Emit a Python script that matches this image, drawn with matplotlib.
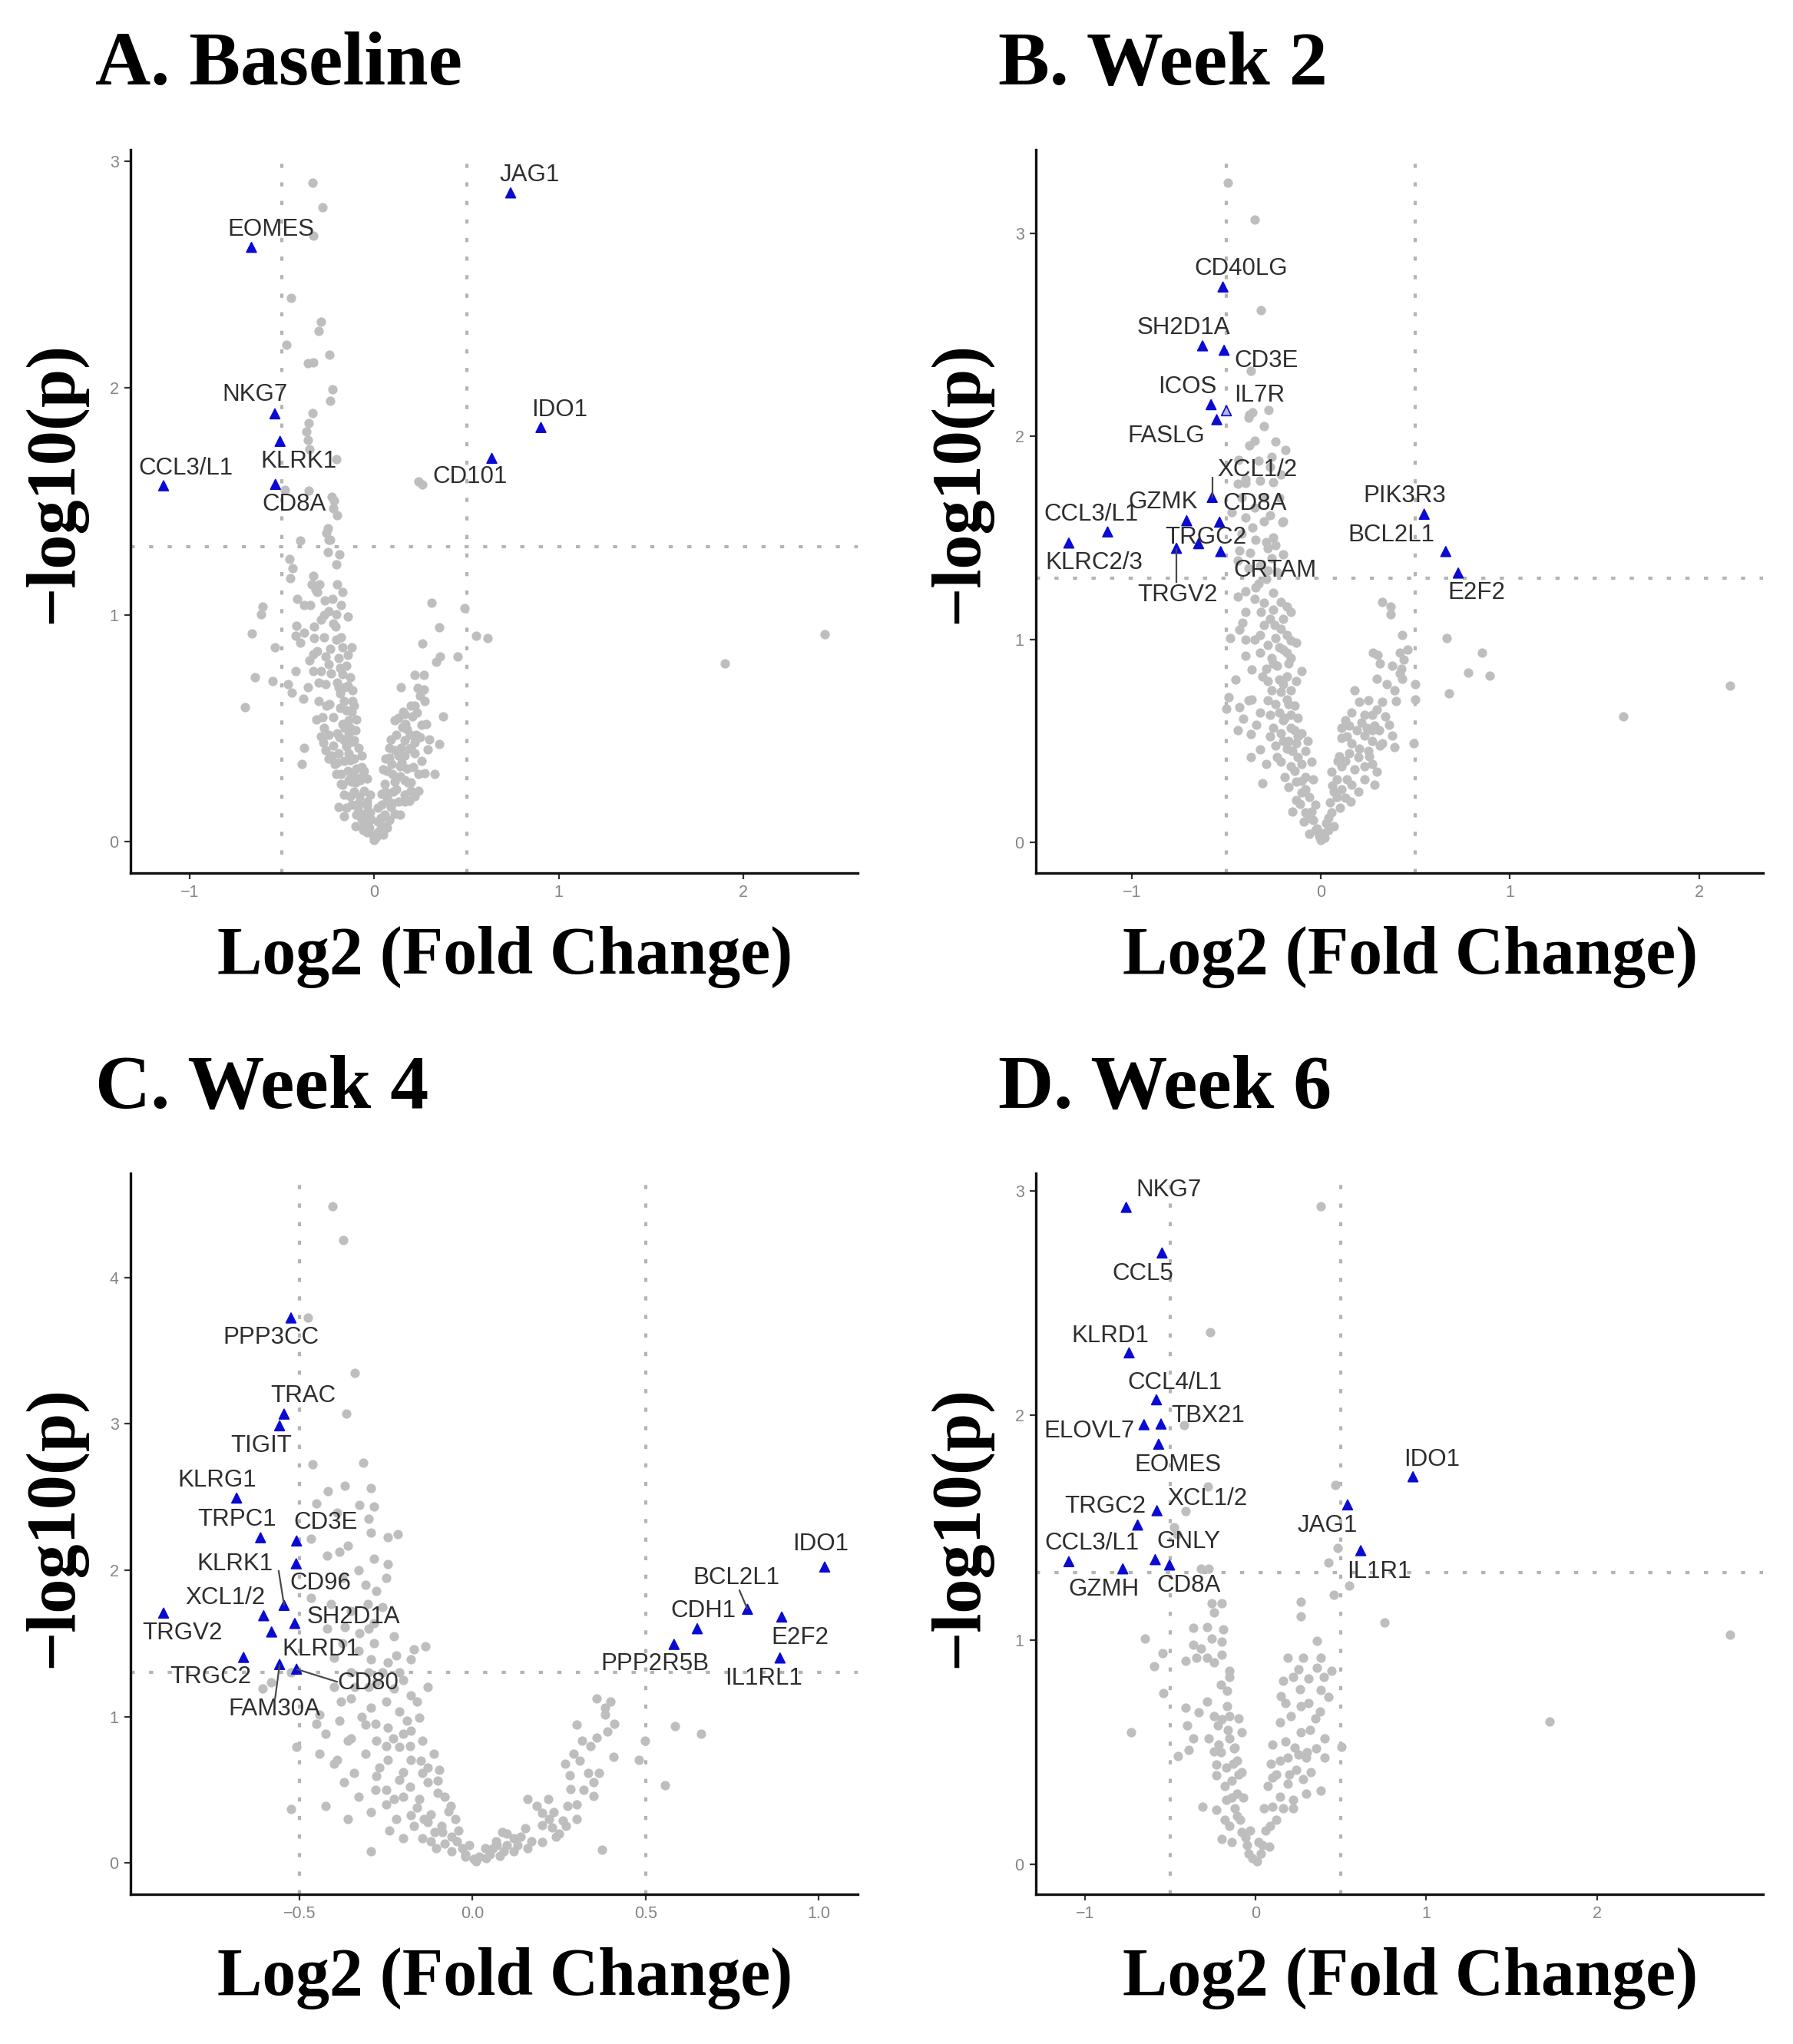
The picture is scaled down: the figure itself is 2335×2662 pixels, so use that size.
import numpy as np
import matplotlib
matplotlib.use("Agg")
import matplotlib.pyplot as plt

P_CUT = 0.05
FC_CUT = 0.5

# ---------------- Panel A : Baseline ----------------
a_gray = [
    (-0.334, 2.905), (-0.281, 2.796), (-0.33, 2.67), (-0.452, 2.398), (-0.288, 2.292), (-0.303, 2.25),
    (-0.476, 2.19), (-0.241, 2.148), (-0.36, 2.11), (-0.33, 2.113), (-0.226, 1.993), (-0.24, 1.944),
    (-0.334, 1.889), (-0.356, 1.846), (-0.368, 1.808), (-0.36, 1.77), (-0.35, 1.73), (-0.204, 1.687),
    (-0.482, 1.552), (-0.356, 1.546), (-0.217, 1.503), (-0.23, 1.52), (-0.22, 1.47), (-0.201, 1.44),
    (-0.251, 1.38), (-0.26, 1.36), (-0.24, 1.33), (0.238, 1.587), (0.26, 1.575),
    (-0.40, 1.327), (-0.248, 1.332), (-0.457, 1.247), (-0.25, 1.276), (-0.19, 1.266), (-0.441, 1.207),
    (-0.206, 1.224), (-0.455, 1.162), (-0.331, 1.173), (-0.337, 1.134), (-0.296, 1.134), (-0.317, 1.111),
    (-0.2, 1.134), (-0.17, 1.10), (-0.603, 1.035), (-0.613, 1.003), (-0.416, 1.069), (-0.379, 1.043),
    (-0.345, 1.043), (-0.269, 1.062), (-0.227, 1.071), (-0.179, 1.043), (-0.248, 1.015), (-0.207, 1.003),
    (-0.145, 0.992), (-0.289, 0.98), (-0.22, 0.963), (-0.661, 0.918), (-0.42, 0.952), (-0.379, 0.922),
    (-0.324, 0.947), (-0.424, 0.907), (-0.4, 0.879), (-0.324, 0.896), (-0.54, 0.856), (-0.207, 0.89),
    (-0.172, 0.856), (-0.124, 0.856), (-0.33, 0.828), (-0.31, 0.839), (-0.262, 0.816), (-0.193, 0.81),
    (-0.145, 0.822), (-0.248, 0.782), (-0.186, 0.765), (-0.152, 0.776), (-0.33, 0.751), (-0.289, 0.753),
    (-0.424, 0.753), (-0.234, 0.742), (-0.172, 0.737), (-0.131, 0.725), (-0.645, 0.724), (-0.549, 0.709),
    (-0.469, 0.693), (-0.262, 0.693), (-0.193, 0.682), (-0.145, 0.688), (-0.448, 0.657), (-0.386, 0.631),
    (-0.186, 0.654), (-0.117, 0.666), (-0.165, 0.62), (-0.241, 0.606), (-0.186, 0.591), (-0.124, 0.574),
    (-0.314, 0.538), (-0.138, 0.535), (-0.096, 0.54), (-0.131, 0.5), (-0.289, 0.465), (-0.248, 0.471),
    (-0.2, 0.477), (-0.379, 0.415), (-0.275, 0.436), (-0.262, 0.402), (-0.165, 0.448), (-0.11, 0.448),
    (-0.083, 0.414), (-0.22, 0.425), (-0.193, 0.391), (-0.138, 0.391), (-0.393, 0.342), (-0.248, 0.367),
    (-0.214, 0.344), (-0.165, 0.356), (-0.11, 0.367), (-0.069, 0.379), (-0.207, 0.299), (-0.145, 0.311),
    (-0.096, 0.322), (-0.055, 0.311), (-0.179, 0.254), (-0.124, 0.265), (-0.076, 0.271), (-0.041, 0.277),
    (-0.165, 0.208), (-0.11, 0.219), (-0.055, 0.225), (-0.193, 0.152), (-0.165, 0.112), (-0.124, 0.163),
    (-0.083, 0.169), (-0.041, 0.175), (-0.021, 0.208), (-0.096, 0.118), (-0.055, 0.124), (-0.021, 0.129),
    (-0.055, 0.073), (-0.025, 0.062), (-0.007, 0.028), (0.0, 0.007), (-0.702, 0.593),
    (-0.03, 0.09), (-0.08, 0.2), (-0.12, 0.3), (-0.15, 0.42), (-0.1, 0.26), (-0.04, 0.04), (-0.14, 0.47),
    (-0.17, 0.52), (-0.15, 0.58), (-0.12, 0.62), (-0.1, 0.49), (-0.07, 0.33), (-0.13, 0.36), (-0.18, 0.3),
    (-0.28, 0.55), (-0.26, 0.6), (-0.22, 0.55), (-0.2, 0.7), (-0.24, 0.85), (-0.27, 0.9), (-0.3, 0.7),
    (-0.35, 0.8), (-0.36, 0.68), (-0.3, 0.62), (-0.27, 0.5), (-0.23, 0.38), (-0.19, 0.46), (-0.16, 0.5),
    (-0.14, 0.27), (-0.09, 0.15), (-0.07, 0.1), (-0.04, 0.16), (-0.02, 0.1), (-0.06, 0.05), (-0.1, 0.07),
    (-0.13, 0.2), (-0.17, 0.25), (-0.15, 0.15), (-0.12, 0.44), (-0.08, 0.28), (-0.11, 0.6), (-0.16, 0.68),
    (-0.21, 0.95), (-0.27, 1.0), (-0.31, 1.1), (-0.18, 0.9), (-0.2, 0.35),
    (0.021, 0.04), (0.041, 0.073), (0.055, 0.118), (0.034, 0.107), (0.083, 0.096), (0.11, 0.124),
    (0.089, 0.152), (0.041, 0.163), (0.131, 0.175), (0.165, 0.175), (0.069, 0.197), (0.103, 0.219),
    (0.165, 0.208), (0.2, 0.225), (0.241, 0.225), (0.055, 0.254), (0.11, 0.265), (0.165, 0.271),
    (0.2, 0.26), (0.069, 0.311), (0.096, 0.344), (0.138, 0.333), (0.179, 0.322), (0.062, 0.367),
    (0.11, 0.402), (0.165, 0.379), (0.22, 0.391), (0.255, 0.356), (0.083, 0.414), (0.145, 0.414),
    (0.2, 0.414), (0.289, 0.408), (0.272, 0.302), (0.325, 0.3), (0.35, 0.429), (0.165, 0.448),
    (0.22, 0.436), (0.193, 0.471), (0.227, 0.471), (0.152, 0.506), (0.179, 0.494), (0.255, 0.515),
    (0.11, 0.535), (0.131, 0.546), (0.165, 0.563), (0.207, 0.551), (0.158, 0.574), (0.372, 0.551),
    (0.2, 0.6), (0.22, 0.6), (0.275, 0.62), (0.248, 0.643), (0.234, 0.677), (0.145, 0.682),
    (0.269, 0.671), (0.22, 0.736), (0.269, 0.736), (0.262, 0.875), (0.35, 0.944), (0.31, 1.053),
    (0.337, 0.794), (0.358, 0.816), (0.452, 0.816), (0.489, 1.028), (0.551, 0.907), (0.614, 0.896),
    (0.02, 0.15), (0.06, 0.22), (0.1, 0.3), (0.13, 0.38), (0.07, 0.18), (0.03, 0.05), (0.09, 0.45),
    (0.01, 0.02), (0.02, 0.09), (0.05, 0.03), (0.07, 0.06), (0.1, 0.17), (0.12, 0.23), (0.14, 0.29),
    (0.18, 0.26), (0.21, 0.33), (0.24, 0.3), (0.12, 0.47), (0.15, 0.35), (0.17, 0.52), (0.19, 0.41),
    (0.23, 0.57), (0.25, 0.46), (0.28, 0.52), (0.3, 0.45), (0.05, 0.32), (0.08, 0.37), (0.04, 0.21),
    (0.14, 0.12), (0.19, 0.18), (0.22, 0.2),
    (1.899, 0.786), (2.44, 0.916),
]
a_genes = ["JAG1", "EOMES", "NKG7", "KLRK1", "CCL3/L1", "CD8A", "IDO1", "CD101"]
a_x = [0.739, -0.665, -0.538, -0.51, -1.141, -0.535, 0.903, 0.637]
a_y = [2.86, 2.62, 1.886, 1.765, 1.569, 1.575, 1.826, 1.69]
a_xticks = [-1, 0, 1, 2]
a_yticks = [0, 1, 2, 3]

# ---------------- Panel B : Week 2 ----------------
b_gray = [
    (-0.49, 3.25), (-0.349, 3.067), (-0.316, 2.62), (-0.37, 2.324), (-0.379, 2.108), (-0.36, 2.12),
    (-0.277, 2.131), (-0.24, 1.976), (-0.186, 1.931), (-0.376, 1.954), (-0.436, 1.883), (-0.26, 1.90),
    (-0.4, 1.77), (-0.27, 1.61), (-0.2, 1.58), (-0.21, 1.81), (-0.38, 2.09),
    (-0.44, 1.768), (-0.40, 1.79), (-0.32, 1.78), (-0.25, 1.775), (-0.47, 1.628), (-0.40, 1.60),
    (-0.205, 1.578), (-0.346, 1.49), (-0.29, 1.477), (-0.25, 1.5), (-0.24, 1.464), (-0.43, 1.438),
    (-0.374, 1.426), (-0.28, 1.45), (-0.44, 1.388), (-0.32, 1.362), (-0.28, 1.337), (-0.29, 1.299),
    (-0.33, 1.274), (-0.346, 1.255), (-0.40, 1.236), (-0.44, 1.21), (-0.25, 1.23), (-0.21, 1.185),
    (-0.18, 1.16), (-0.40, 1.134), (-0.317, 1.134), (-0.25, 1.147), (-0.157, 1.134), (-0.414, 1.083),
    (-0.43, 1.046), (-0.30, 1.071), (-0.243, 1.071), (-0.21, 1.052), (-0.177, 1.02), (-0.48, 1.007),
    (-0.32, 1.02), (-0.24, 1.007), (-0.16, 0.995), (-0.13, 0.982), (-0.40, 0.919), (-0.32, 0.932),
    (-0.26, 0.906), (-0.18, 0.932), (-0.16, 0.906), (-0.366, 0.849), (-0.29, 0.855), (-0.25, 0.881),
    (-0.17, 0.881), (-0.10, 0.843), (-0.31, 0.818), (-0.28, 0.792), (-0.18, 0.818), (-0.13, 0.792),
    (-0.26, 0.748), (-0.21, 0.741), (-0.157, 0.748), (-0.486, 0.716), (-0.366, 0.703), (-0.18, 0.703),
    (-0.14, 0.672), (-0.50, 0.659), (-0.43, 0.665), (-0.32, 0.64), (-0.27, 0.627), (-0.22, 0.64),
    (-0.41, 0.608), (-0.19, 0.614), (-0.157, 0.627), (-0.12, 0.614), (-0.37, 0.532), (-0.25, 0.564),
    (-0.21, 0.538), (-0.157, 0.564), (-0.10, 0.538), (-0.32, 0.456), (-0.29, 0.386), (-0.37, 0.418),
    (-0.24, 0.475), (-0.18, 0.462), (-0.13, 0.487), (-0.08, 0.449), (-0.31, 0.291), (-0.21, 0.398),
    (-0.157, 0.373), (-0.10, 0.386), (-0.05, 0.398), (-0.19, 0.322), (-0.13, 0.297), (-0.08, 0.322),
    (-0.04, 0.31), (-0.13, 0.208), (-0.10, 0.246), (-0.06, 0.221), (-0.03, 0.183), (-0.08, 0.145),
    (-0.04, 0.107), (-0.02, 0.069), (0.0, 0.01), (-0.06, 0.12), (-0.1, 0.3), (-0.15, 0.45),
    (-0.2, 0.5), (-0.12, 0.42), (-0.14, 0.55), (-0.17, 0.68), (-0.2, 0.78), (-0.22, 0.96), (-0.2, 1.1),
    (-0.42, 1.7), (-0.35, 1.65), (-0.3, 1.7), (-0.27, 1.85), (-0.33, 1.88), (-0.22, 1.7), (-0.3, 1.58),
    (-0.36, 1.55), (-0.42, 1.52), (-0.2, 1.42), (-0.26, 1.4), (-0.38, 1.35), (-0.23, 1.33), (-0.35, 1.98),
    (-0.3, 2.05), (-0.35, 1.2), (-0.3, 1.18), (-0.27, 1.1), (-0.35, 1.0), (-0.28, 0.97), (-0.23, 0.87),
    (-0.2, 0.95), (-0.22, 0.8), (-0.28, 0.7), (-0.24, 0.68), (-0.2, 0.6), (-0.17, 0.5), (-0.23, 0.42),
    (-0.27, 0.52), (-0.14, 0.35), (-0.17, 0.27), (-0.11, 0.19), (-0.08, 0.26), (-0.05, 0.15),
    (-0.03, 0.06), (-0.01, 0.03), (-0.06, 0.04), (-0.09, 0.1), (-0.15, 0.15), (-0.12, 0.52),
    (-0.07, 0.5), (-0.34, 0.58), (-0.38, 0.7), (-0.44, 0.55), (-0.45, 0.8), (-0.4, 1.0),
    (0.016, 0.043), (0.03, 0.094), (0.057, 0.145), (0.05, 0.196), (0.084, 0.221), (0.11, 0.259),
    (0.057, 0.348), (0.084, 0.31), (0.137, 0.31), (0.164, 0.284), (0.23, 0.31), (0.285, 0.284),
    (0.11, 0.373), (0.177, 0.36), (0.23, 0.373), (0.27, 0.386), (0.298, 0.348), (0.097, 0.424),
    (0.15, 0.437), (0.204, 0.462), (0.257, 0.424), (0.311, 0.475), (0.11, 0.513), (0.164, 0.487),
    (0.23, 0.526), (0.27, 0.5), (0.324, 0.487), (0.391, 0.468), (0.11, 0.564), (0.15, 0.576),
    (0.243, 0.564), (0.285, 0.576), (0.378, 0.526), (0.164, 0.64), (0.204, 0.69), (0.23, 0.627),
    (0.27, 0.627), (0.298, 0.652), (0.324, 0.69), (0.398, 0.697), (0.27, 0.551), (0.217, 0.589),
    (0.298, 0.805), (0.378, 0.868), (0.418, 0.83), (0.431, 0.805), (0.498, 0.78), (0.278, 0.932),
    (0.311, 0.881), (0.418, 0.932), (0.425, 0.855), (0.431, 1.02), (0.498, 0.703), (0.324, 1.185),
    (0.371, 1.16), (0.371, 1.122), (0.667, 1.007), (0.68, 0.735), (0.49, 0.487), (0.78, 0.837),
    (0.854, 0.933), (0.893, 0.821), (0.30, 0.924), (0.04, 0.12), (0.07, 0.25), (0.13, 0.4),
    (0.02, 0.02), (0.04, 0.06), (0.07, 0.08), (0.1, 0.17), (0.13, 0.22), (0.16, 0.2), (0.2, 0.25),
    (0.06, 0.28), (0.09, 0.4), (0.14, 0.52), (0.19, 0.55), (0.2, 0.42), (0.25, 0.45), (0.31, 0.55),
    (0.34, 0.62), (0.36, 0.58), (0.13, 0.6), (0.18, 0.75), (0.25, 0.7), (0.35, 0.78), (0.39, 0.75),
    (0.44, 0.9), (0.46, 0.95),
    (1.599, 0.618), (2.164, 0.772),
]
b_genes = ["CD40LG", "SH2D1A", "CD3E", "ICOS", "IL7R", "FASLG", "XCL1/2", "CD8A", "GZMK",
           "CCL3/L1", "KLRC2/3", "TRGC2", "TRGV2", "CRTAM", "PIK3R3", "BCL2L1", "E2F2"]
b_x = [-0.517, -0.625, -0.511, -0.58, -0.499, -0.55, -0.574, -0.535, -0.709,
       -1.127, -1.332, -0.646, -0.763, -0.529, 0.547, 0.661, 0.727]
b_y = [2.736, 2.446, 2.424, 2.156, 2.126, 2.082, 1.699, 1.577, 1.584,
       1.529, 1.474, 1.471, 1.448, 1.432, 1.616, 1.432, 1.326]
b_xticks = [-1, 0, 1, 2]
b_yticks = [0, 1, 2, 3]

# ---------------- Panel C : Week 4 ----------------
c_gray = [
    (-0.405, 4.489), (-0.373, 4.258), (-0.475, 3.724), (-0.34, 3.347), (-0.364, 3.071), (-0.462, 2.724),
    (-0.315, 2.733), (-0.417, 2.538), (-0.368, 2.578), (-0.293, 2.56), (-0.45, 2.458), (-0.392, 2.391),
    (-0.326, 2.444), (-0.285, 2.436), (-0.244, 2.227), (-0.216, 2.244), (-0.293, 2.258), (-0.466, 2.213),
    (-0.359, 2.169), (-0.384, 2.124), (-0.285, 2.08), (-0.244, 2.044), (-0.376, 1.947), (-0.31, 1.902),
    (-0.277, 1.858), (-0.466, 1.813), (-0.409, 1.769), (-0.302, 1.769), (-0.368, 1.613), (-0.326, 1.569),
    (-0.285, 1.636), (-0.376, 1.502), (-0.285, 1.502), (-0.227, 1.547), (-0.17, 1.458), (-0.137, 1.48),
    (-0.293, 1.391), (-0.244, 1.369), (-0.211, 1.302), (-0.178, 1.391), (-0.524, 1.302), (-0.582, 1.236),
    (-0.607, 1.191), (-0.277, 1.236), (-0.227, 1.191), (-0.178, 1.147), (-0.351, 1.124), (-0.293, 1.058),
    (-0.211, 1.036), (-0.153, 0.991), (-0.442, 1.013), (-0.384, 0.969), (-0.31, 0.947), (-0.244, 0.924),
    (-0.178, 0.902), (-0.425, 0.88), (-0.359, 0.836), (-0.277, 0.836), (-0.211, 0.791), (-0.145, 0.836),
    (-0.508, 0.791), (-0.442, 0.747), (-0.392, 0.702), (-0.31, 0.747), (-0.244, 0.702), (-0.178, 0.702),
    (-0.112, 0.747), (-0.343, 0.613), (-0.277, 0.591), (-0.211, 0.569), (-0.145, 0.613), (-0.096, 0.636),
    (-0.524, 0.369), (-0.425, 0.391), (-0.359, 0.302), (-0.293, 0.347), (-0.227, 0.436), (-0.153, 0.436),
    (-0.063, 0.391), (-0.178, 0.324), (-0.129, 0.28), (-0.087, 0.213), (-0.046, 0.147), (-0.021, 0.058),
    (0.003, 0.027), (-0.293, 0.08), (-0.145, 0.169), (-0.104, 0.102),
    (-0.25, 0.5), (-0.2, 0.45), (-0.16, 0.38), (-0.12, 0.33), (-0.09, 0.25), (-0.06, 0.18), (-0.03, 0.1),
    (-0.2, 0.62), (-0.13, 0.55), (-0.1, 0.48), (-0.07, 0.35), (-0.27, 0.65), (-0.23, 0.85), (-0.19, 0.97),
    (-0.16, 1.1), (-0.13, 1.2), (-0.25, 1.1), (-0.3, 1.3), (-0.18, 0.52), (-0.22, 0.3), (-0.12, 0.15),
    (-0.42, 1.6), (-0.4, 1.4), (-0.35, 1.3), (-0.33, 1.45), (-0.3, 1.2), (-0.26, 1.3), (-0.22, 1.42),
    (-0.2, 1.25), (-0.34, 1.2), (-0.38, 1.1), (-0.32, 1.0), (-0.28, 0.95), (-0.25, 0.8), (-0.2, 0.88),
    (-0.18, 0.8), (-0.15, 0.7), (-0.13, 0.65), (-0.1, 0.56), (-0.08, 0.45), (-0.05, 0.3), (-0.04, 0.22),
    (-0.01, 0.12), (-0.02, 0.04), (-0.06, 0.08), (-0.08, 0.13), (-0.11, 0.21), (-0.14, 0.3),
    (-0.17, 0.25), (-0.2, 0.17), (-0.24, 0.22), (-0.25, 0.4), (-0.28, 0.5), (-0.33, 0.45), (-0.37, 0.55),
    (-0.4, 0.68), (-0.35, 0.85), (-0.45, 0.95), (-0.4, 1.2), (-0.3, 1.6), (-0.26, 1.75), (-0.35, 1.72),
    (-0.33, 2.0), (-0.42, 2.1), (-0.25, 1.95), (-0.3, 2.35),
    (0.036, 0.102), (0.069, 0.147), (0.086, 0.213), (0.119, 0.169), (0.152, 0.236), (0.201, 0.258),
    (0.234, 0.347), (0.185, 0.391), (0.16, 0.436), (0.218, 0.436), (0.275, 0.391), (0.284, 0.502),
    (0.349, 0.458), (0.374, 0.089), (0.267, 0.68), (0.292, 0.747), (0.333, 0.613), (0.366, 0.613),
    (0.407, 0.724), (0.316, 0.836), (0.358, 0.858), (0.382, 1.013), (0.399, 1.102), (0.358, 1.124),
    (0.3, 0.947), (0.481, 0.702), (0.498, 0.836), (0.555, 0.533), (0.585, 0.933), (0.659, 0.88),
    (0.382, 1.058), (0.1, 0.2), (0.06, 0.1), (0.13, 0.12), (0.22, 0.3), (0.25, 0.2), (0.3, 0.3),
    (0.17, 0.15), (0.02, 0.04), (0.05, 0.06), (0.09, 0.08),
    (0.01, 0.01), (0.04, 0.03), (0.08, 0.05), (0.12, 0.08), (0.16, 0.1), (0.2, 0.14), (0.24, 0.18),
    (0.27, 0.25), (0.23, 0.24), (0.2, 0.34), (0.26, 0.29), (0.3, 0.4), (0.32, 0.5), (0.35, 0.55),
    (0.28, 0.6), (0.31, 0.7), (0.34, 0.8), (0.39, 0.9), (0.41, 0.95), (0.1, 0.12), (0.14, 0.18),
    (0.07, 0.12),
]
c_genes = ["PPP3CC", "TRAC", "TIGIT", "KLRG1", "TRPC1", "CD3E", "CD96", "KLRK1", "XCL1/2",
           "TRGV2", "SH2D1A", "KLRD1", "TRGC2", "FAM30A", "CD80",
           "IDO1", "BCL2L1", "CDH1", "E2F2", "PPP2R5B", "IL1RL1"]
c_x = [-0.524, -0.544, -0.557, -0.681, -0.612, -0.508, -0.509, -0.544, -0.603,
       -0.892, -0.513, -0.58, -0.661, -0.557, -0.508,
       1.017, 0.794, 0.649, 0.893, 0.582, 0.888]
c_y = [3.724, 3.067, 2.987, 2.493, 2.222, 2.2, 2.044, 1.76, 1.689,
       1.707, 1.636, 1.578, 1.404, 1.356, 1.324,
       2.022, 1.733, 1.6, 1.68, 1.493, 1.4]
c_xticks = [-0.5, 0.0, 0.5, 1.0]
c_xticklabels = ["\u22120.5", "0.0", "0.5", "1.0"]
c_yticks = [0, 1, 2, 3, 4]

# ---------------- Panel D : Week 6 ----------------
d_gray = [
    # above / near the threshold
    (0.383, 2.933), (-0.267, 2.372), (-0.42, 1.957), (-0.28, 1.683), (-0.408, 1.575), (-0.478, 1.504),
    (-0.46, 1.47), (-0.318, 1.317), (-0.273, 1.317), (0.47, 1.689), (0.481, 1.409), (0.429, 1.345),
    (0.548, 1.243), (0.459, 1.2), (0.755, 1.077), (0.265, 1.172), (0.265, 1.107), (0.362, 0.995),
    (1.723, 0.637), (2.78, 1.023),
    # left arm
    (-0.646, 1.007), (-0.545, 0.942), (-0.592, 0.883), (-0.54, 0.763), (-0.73, 0.588),
    (-0.363, 1.053), (-0.285, 1.057), (-0.187, 1.047), (-0.258, 1.007), (-0.198, 0.993),
    (-0.366, 0.98), (-0.318, 0.963), (-0.408, 0.906), (-0.348, 0.921), (-0.281, 0.921), (-0.244, 0.9),
    (-0.198, 0.935), (-0.154, 0.863), (-0.154, 0.834), (-0.258, 1.165), (-0.198, 1.165), (-0.244, 1.122),
    (-0.168, 0.774), (-0.281, 0.727), (-0.333, 0.677), (-0.408, 0.698), (-0.168, 0.705), (-0.154, 0.662),
    (-0.198, 0.648), (-0.244, 0.662), (-0.4, 0.619), (-0.363, 0.561), (-0.273, 0.561), (-0.079, 0.59),
    (-0.452, 0.482), (-0.393, 0.511), (-0.244, 0.504), (-0.214, 0.533), (-0.154, 0.561), (-0.124, 0.518),
    (-0.229, 0.446), (-0.169, 0.432), (-0.109, 0.461), (-0.229, 0.396), (-0.139, 0.374), (-0.079, 0.41),
    (-0.311, 0.259), (-0.229, 0.245), (-0.169, 0.288), (-0.109, 0.317), (-0.198, 0.115), (-0.154, 0.173),
    (-0.109, 0.216), (-0.079, 0.144), (-0.049, 0.087), (-0.019, 0.029),
    (-0.12, 0.25), (-0.14, 0.3), (-0.09, 0.2), (-0.06, 0.12), (-0.1, 0.4), (-0.18, 0.35), (-0.2, 0.5),
    (-0.13, 0.45), (-0.16, 0.6), (-0.1, 0.65), (-0.2, 0.8), (-0.22, 0.62), (-0.04, 0.05), (-0.07, 0.3),
    (-0.03, 0.15), (-0.18, 0.2), (-0.14, 0.1), (-0.12, 0.52),
    # right arm
    (0.011, 0.014), (0.041, 0.087), (0.086, 0.173), (0.101, 0.259), (0.146, 0.302), (0.19, 0.36),
    (0.101, 0.389), (0.146, 0.461), (0.19, 0.475), (0.25, 0.489), (0.295, 0.475), (0.325, 0.41),
    (0.384, 0.331), (0.295, 0.317), (0.22, 0.288), (0.101, 0.533), (0.176, 0.547), (0.265, 0.59),
    (0.355, 0.518), (0.407, 0.475), (0.407, 0.561), (0.504, 0.525), (0.146, 0.633), (0.205, 0.662),
    (0.265, 0.705), (0.31, 0.719), (0.176, 0.719), (0.161, 0.82), (0.22, 0.834), (0.31, 0.827),
    (0.384, 0.777), (0.429, 0.748), (0.444, 0.863), (0.362, 0.878), (0.4, 0.834), (0.19, 0.921),
    (0.28, 0.921), (0.384, 0.921), (0.25, 0.87),
    (0.03, 0.05), (0.06, 0.15), (0.05, 0.25), (0.07, 0.35), (0.12, 0.2), (0.16, 0.25), (0.12, 0.4),
    (0.2, 0.4), (0.24, 0.42), (0.22, 0.25), (0.28, 0.38), (0.32, 0.6), (0.23, 0.52), (0.15, 0.75),
    (0.3, 0.5), (0.35, 0.65), (0.09, 0.45), (0.38, 0.68), (0.26, 0.78), (0.02, 0.1), (0.08, 0.08),
]
d_genes = ["NKG7", "CCL5", "KLRD1", "CCL4/L1", "ELOVL7", "TBX21", "EOMES", "XCL1/2", "TRGC2",
           "CCL3/L1", "GZMH", "GNLY", "CD8A", "IDO1", "JAG1", "IL1R1"]
d_x = [-0.757, -0.547, -0.74, -0.58, -0.653, -0.553, -0.567, -0.577, -0.69,
       -1.093, -0.777, -0.587, -0.503, 0.923, 0.54, 0.617]
d_y = [2.927, 2.724, 2.279, 2.07, 1.959, 1.962, 1.872, 1.576, 1.512,
       1.349, 1.317, 1.358, 1.334, 1.727, 1.602, 1.398]
d_xticks = [-1, 0, 1, 2]
d_yticks = [0, 1, 2, 3]

# ---------------- layout (label placement, repel segments) ----------------
a_labpos = {"JAG1": (0.841, 2.94), "EOMES": (-0.56, 2.70), "NKG7": (-0.646, 1.97),
            "KLRK1": (-0.411, 1.676), "CCL3/L1": (-1.02, 1.647), "CD8A": (-0.433, 1.486),
            "IDO1": (1.002, 1.903), "CD101": (0.52, 1.61)}
b_labpos = {"CD40LG": (-0.421, 2.826), "SH2D1A": (-0.727, 2.533), "CD3E": (-0.289, 2.372),
            "ICOS": (-0.706, 2.243), "IL7R": (-0.325, 2.201), "FASLG": (-0.818, 2.002),
            "XCL1/2": (-0.334, 1.835), "CD8A": (-0.349, 1.667), "GZMK": (-0.835, 1.674),
            "CCL3/L1": (-1.214, 1.616), "KLRC2/3": (-1.199, 1.378), "TRGC2": (-0.607, 1.50),
            "TRGV2": (-0.757, 1.217), "CRTAM": (-0.24, 1.339), "PIK3R3": (0.445, 1.706),
            "BCL2L1": (0.373, 1.513), "E2F2": (0.824, 1.229)}
c_labpos = {"PPP3CC": (-0.582, 3.591), "TRAC": (-0.488, 3.191), "TIGIT": (-0.61, 2.849),
            "KLRG1": (-0.738, 2.613), "TRPC1": (-0.681, 2.347), "CD3E": (-0.425, 2.324),
            "CD96": (-0.438, 1.911), "KLRK1": (-0.686, 2.044), "XCL1/2": (-0.714, 1.813),
            "TRGV2": (-0.837, 1.569), "SH2D1A": (-0.343, 1.68), "KLRD1": (-0.437, 1.458),
            "TRGC2": (-0.757, 1.271), "FAM30A": (-0.572, 1.049), "CD80": (-0.302, 1.227),
            "IDO1": (1.004, 2.178), "BCL2L1": (0.761, 1.947), "CDH1": (0.666, 1.72),
            "E2F2": (0.946, 1.538), "PPP2R5B": (0.526, 1.36), "IL1RL1": (0.841, 1.258)}
d_labpos = {"NKG7": (-0.51, 3.003), "CCL5": (-0.66, 2.631), "KLRD1": (-0.853, 2.355),
            "CCL4/L1": (-0.473, 2.145), "TBX21": (-0.277, 1.997), "ELOVL7": (-0.973, 1.93),
            "EOMES": (-0.453, 1.779), "XCL1/2": (-0.283, 1.628), "TRGC2": (-0.88, 1.593),
            "CCL3/L1": (-0.96, 1.43), "GNLY": (-0.39, 1.436), "GZMH": (-0.887, 1.224),
            "CD8A": (-0.393, 1.241), "IDO1": (1.033, 1.802), "JAG1": (0.423, 1.509),
            "IL1R1": (0.723, 1.305)}
b_segments = {"XCL1/2": (-0.574, 1.80), "TRGV2": (-0.763, 1.278)}
c_segments = {"KLRK1": (-0.56, 2.0), "BCL2L1": (0.77, 1.867), "FAM30A": (-0.57, 1.124),
              "CD80": (-0.389, 1.236)}
b_open = ["IL7R"]

panels = [
    dict(title="A. Baseline", gray=a_gray, genes=a_genes, x=a_x, y=a_y, lab=a_labpos, seg={},
         xt=a_xticks, xtl=None, yt=a_yticks, openm=[],
         rect=[0.0728, 0.5729, 0.4056, 0.3538], title_xy=(0.0531, 0.9587), ylab_y=0.764),
    dict(title="B. Week 2", gray=b_gray, genes=b_genes, x=b_x, y=b_y, lab=b_labpos, seg=b_segments,
         xt=b_xticks, xtl=None, yt=b_yticks, openm=b_open,
         rect=[0.5777, 0.5729, 0.4056, 0.3538], title_xy=(0.5567, 0.9587), ylab_y=0.764),
    dict(title="C. Week 4", gray=c_gray, genes=c_genes, x=c_x, y=c_y, lab=c_labpos, seg=c_segments,
         xt=c_xticks, xtl=c_xticklabels, yt=c_yticks, openm=[],
         rect=[0.0728, 0.0733, 0.4056, 0.3527], title_xy=(0.0531, 0.4579), ylab_y=0.2532),
    dict(title="D. Week 6", gray=d_gray, genes=d_genes, x=d_x, y=d_y, lab=d_labpos, seg={},
         xt=d_xticks, xtl=None, yt=d_yticks, openm=[],
         rect=[0.5777, 0.0733, 0.4056, 0.3527], title_xy=(0.5567, 0.4579), ylab_y=0.2532),
]

SERIF = ["Liberation Serif", "DejaVu Serif"]
SANS = ["Liberation Sans", "DejaVu Sans"]
GRAY = "#bebebe"
BLUE = "#0a0ad2"

fig = plt.figure(figsize=(23.35, 26.62), dpi=100)
fig.patch.set_facecolor("white")

for p in panels:
    ax = fig.add_axes(p["rect"])
    gx = [g[0] for g in p["gray"]]
    gy = [g[1] for g in p["gray"]]
    ax.scatter(gx, gy, s=78, c=GRAY, linewidths=0, zorder=2)
    fc = [("#b8b8d8" if g in p["openm"] else BLUE) for g in p["genes"]]
    ax.scatter(p["x"], p["y"], marker="^", s=85, c=fc, edgecolors=BLUE, linewidths=1.2, zorder=3)
    ax.margins(0.05)
    ax.autoscale_view()
    ax.axvline(-FC_CUT, color="#b4b4b4", lw=3.0, ls=(0, (1.3, 4.5)), zorder=1)
    ax.axvline(FC_CUT, color="#b4b4b4", lw=3.0, ls=(0, (1.3, 4.5)), zorder=1)
    ax.axhline(-np.log10(P_CUT), color="#b4b4b4", lw=3.0, ls=(0, (1.3, 4.5)), zorder=1)
    for g, px, py in zip(p["genes"], p["x"], p["y"]):
        lx, ly = p["lab"][g]
        if g in p["seg"]:
            sx, sy = p["seg"][g]
            ax.plot([px, sx], [py, sy], color="#4a4a4a", lw=1.6, zorder=3, solid_capstyle="butt")
        ax.text(lx, ly, g, ha="center", va="center", fontsize=22.5, color="#2e2e2e",
                family=SANS, zorder=4)
    for s in ["top", "right"]:
        ax.spines[s].set_visible(False)
    for s in ["left", "bottom"]:
        ax.spines[s].set_linewidth(2.4)
        ax.spines[s].set_color("#111111")
    ax.set_xticks(p["xt"])
    if p["xtl"] is not None:
        ax.set_xticklabels(p["xtl"])
    ax.set_yticks(p["yt"])
    ax.tick_params(axis="both", length=6, width=1.6, color="#333333", labelsize=15.5,
                   labelcolor="#858585", pad=5)
    for t in ax.get_xticklabels() + ax.get_yticklabels():
        t.set_family(SANS)
    ax.set_facecolor("white")
    l, b, w, h = p["rect"]
    fig.text(p["title_xy"][0], p["title_xy"][1], p["title"], ha="left", va="baseline",
             fontsize=72, fontweight="bold", family=SERIF, color="black")
    fig.text(l + w / 2 + 0.006, b - 0.0413, "Log2 (Fold Change)", ha="center", va="center",
             fontsize=63, fontweight="bold", family=SERIF, color="black")
    fig.text(l - 0.0425, p["ylab_y"], "\u2212log10(p)", ha="center", va="center", rotation=90,
             fontsize=65, fontweight="bold", family=SERIF, color="black")

fig.savefig("out.png", dpi=100, facecolor="white")
